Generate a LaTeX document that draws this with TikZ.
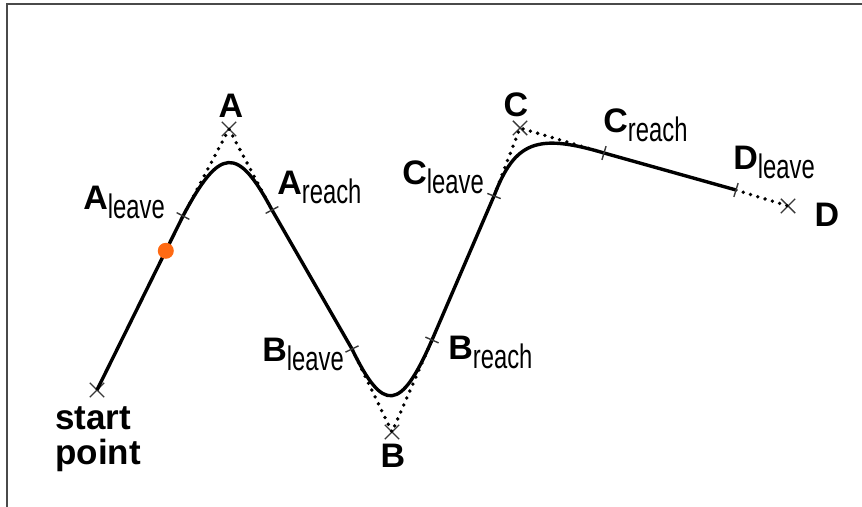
\documentclass[tikz,border=0pt]{standalone}
\usepackage{fontspec}
\setmainfont{Liberation Sans}
\usepackage{graphicx}
\usetikzlibrary{calc,shapes.misc}
\definecolor{FrameGray}{HTML}{4A4A4A}
\definecolor{MarkGray}{HTML}{383838}
\definecolor{DotOrange}{HTML}{FF6A13}

% bold point name with a narrow lowered index
\newcommand{\ptname}[2]{{\bfseries #1}\raisebox{-4.5pt}{\scalebox{0.7}[1]{#2}}}

\tikzset{
  waymark/.style={cross out, draw=MarkGray, line width=0.7pt, inner sep=0pt, minimum size=6.5pt},
  tickmark/.style={draw=MarkGray, line width=0.7pt},
  track/.style={line width=1.7pt, line join=round},
  guide/.style={line width=1.9pt, line cap=round, dash pattern=on 0pt off 3.8pt},
  ptlabel/.style={inner sep=0pt, font=\fontsize{17}{19}\selectfont}
}

\begin{document}
\begin{tikzpicture}[x=0.5pt, y=-0.5pt]
    \useasboundingbox (0,0) rectangle (862,507);
    \draw[FrameGray, line width=1.4pt] (7,507) -- (7,4) -- (862,4);

    % waypoints
    \node[waymark] (start) at (97,390) {};
    \node[waymark] (A) at (229,129) {};
    \node[waymark] (B) at (392,432) {};
    \node[waymark] (C) at (520,128) {};
    \node[waymark] (D) at (788,206) {};

    % where the path leaves and reaches them
    \coordinate (Aleave) at (183,216);
    \coordinate (Areach) at (272,210);
    \coordinate (Bleave) at (352,349);
    \coordinate (Breach) at (432,340);
    \coordinate (Cleave) at (494,196);
    \coordinate (Creach) at (604,153);
    \coordinate (Dleave) at (736,190);

    % straight legs to the waypoints
    \draw[guide] (Aleave) -- (A.center) -- (Areach);
    \draw[guide] (Bleave) -- (B.center) -- (Breach);
    \draw[guide] (Cleave) -- (C.center) -- (Creach);
    \draw[guide] (Dleave) -- (D.center);

    % smoothed path
    \draw[track] (start.center) -- (Aleave)
      .. controls ($(Aleave)!0.8!(A.center)$) and ($(Areach)!0.8!(A.center)$) .. (Areach)
      -- (Bleave)
      .. controls ($(Bleave)!0.78!(B.center)$) and ($(Breach)!0.78!(B.center)$) .. (Breach)
      -- (Cleave)
      .. controls ($(Cleave)!0.8!(C.center)$) and ($(Creach)!0.8!(C.center)$) .. (Creach)
      -- (Dleave);

    \foreach \p/\q in {Aleave/A, Areach/A, Bleave/B, Breach/B, Cleave/C, Creach/C, Dleave/D}
      \draw[tickmark] ($(\p)!3.6pt!90:(\q.center)$) -- ($(\p)!3.6pt!-90:(\q.center)$);

    \fill[DotOrange] ($(start.center)!0.8!(Aleave)$) circle (8);

    % labels
    \node[ptlabel, anchor=base] (labA) at (231,118) {\bfseries A};
    \node[ptlabel, anchor=base] (labB) at (393,467) {\bfseries B};
    \node[ptlabel, anchor=base] (labC) at (516,117) {\bfseries C};
    \node[ptlabel, anchor=base] (labD) at (827,227) {\bfseries D};
    \node[ptlabel, anchor=base west] (labAleave) at (83,210) {\ptname{A}{leave}};
    \node[ptlabel, anchor=base west] (labAreach) at (277,195) {\ptname{A}{reach}};
    \node[ptlabel, anchor=base west] (labBleave) at (262,362) {\ptname{B}{leave}};
    \node[ptlabel, anchor=base west] (labBreach) at (448,360) {\ptname{B}{reach}};
    \node[ptlabel, anchor=base west] (labCleave) at (402,185) {\ptname{C}{leave}};
    \node[ptlabel, anchor=base west] (labCreach) at (603,133) {\ptname{C}{reach}};
    \node[ptlabel, anchor=base west] (labDleave) at (733,170) {\ptname{D}{leave}};
    \node[ptlabel, anchor=base west, align=left, font=\fontsize{17.5}{17.5}\selectfont\bfseries] (labstart) at (55,465) {start\\point};
  \end{tikzpicture}
\end{document}
